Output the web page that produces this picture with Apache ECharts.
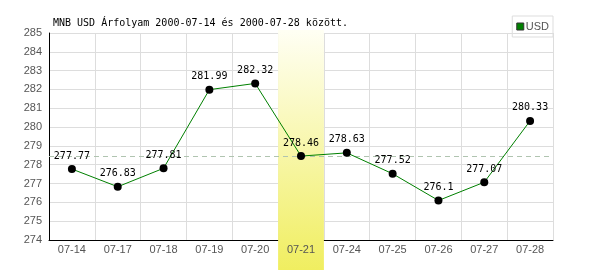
<!DOCTYPE html>
<html><head><meta charset="utf-8">
<script src="https://cdn.jsdelivr.net/npm/echarts@6/dist/echarts.min.js"></script>
<style>html,body{margin:0;padding:0;background:#fff}#c{width:600px;height:270px}</style>
</head><body><div id="c"></div>
<script>
var categories = ['07-14','07-17','07-18','07-19','07-20','07-21','07-24','07-25','07-26','07-27','07-28'];
var usdValues = [277.77, 276.83, 277.81, 281.99, 282.32, 278.46, 278.63, 277.52, 276.1, 277.07, 280.33];
var highlightDay = '07-21';
var referenceValue = 278.46;
var yMin = 274, yMax = 285, yStep = 1;
var titleText = 'MNB USD Árfolyam 2000-07-14 és 2000-07-28 között.';
var seriesName = 'USD';

var bandData = categories.map(function(c){ return c === highlightDay ? 1 : '-'; });

var chart = echarts.init(document.getElementById('c'), null, {renderer:'canvas'});
chart.setOption({
  animation: false,
  backgroundColor: '#fff',
  title: {
    text: titleText, left: 48, top: 13,
    textStyle: {fontFamily: 'DejaVu Sans Mono', fontSize: 10, fontWeight: 'normal', color: '#000'}
  },
  legend: {
    data: [{name: seriesName, icon: 'rect', itemStyle: {color: '#008000', borderColor: '#333', borderWidth: 1}}],
    right: 47, top: 16,
    borderColor: '#ddd', borderWidth: 1, padding: [5, 4, 5, 4],
    itemWidth: 7, itemHeight: 7, itemGap: 2,
    textStyle: {fontFamily: 'Liberation Sans', fontSize: 11, color: '#555', padding: [0,0,0,-3]}
  },
  grid: [
    {left: 49, right: 47, top: 33, bottom: 30},
    {left: 49, right: 47, top: 30, bottom: 0}
  ],
  xAxis: [
    {type: 'category', data: categories, gridIndex: 0, boundaryGap: true,
     axisLine: {lineStyle: {color: '#000', width: 1}},
     axisTick: {show: false},
     axisLabel: {fontFamily: 'Liberation Sans', fontSize: 11, color: '#555', margin: 4},
     splitLine: {show: true, lineStyle: {color: '#ddd', width: 1}}},
    {type: 'category', data: categories, gridIndex: 1, boundaryGap: true, show: false}
  ],
  yAxis: [
    {type: 'value', min: yMin, max: yMax, interval: yStep, gridIndex: 0,
     axisLine: {show: true, lineStyle: {color: '#000', width: 1}},
     axisTick: {show: false},
     axisLabel: {fontFamily: 'Liberation Sans', fontSize: 11, color: '#555', margin: 7},
     splitLine: {show: true, lineStyle: {color: '#ddd', width: 1}}},
    {type: 'value', min: 0, max: 1, gridIndex: 1, show: false}
  ],
  series: [
    {type: 'bar', xAxisIndex: 1, yAxisIndex: 1, data: bandData, barWidth: '100%', silent: true, z: 0,
     itemStyle: {color: new echarts.graphic.LinearGradient(0,0,0,1,[{offset:0,color:'#fffff4'},{offset:1,color:'#f0ee60'}])}},
    {name: seriesName, type: 'line', data: usdValues, z: 5,
     lineStyle: {color: '#008000', width: 1},
     itemStyle: {color: '#000'},
     symbol: 'circle', symbolSize: 8,
     label: {show: true, position: 'top', distance: 4, color: '#000', fontFamily: 'DejaVu Sans Mono', fontSize: 10},
     markLine: {silent: true, symbol: 'none', label: {show: false},
       lineStyle: {color: '#b0c4b0', type: [5, 4], width: 1},
       data: [{yAxis: referenceValue}]}}
  ]
});
</script></body></html>
